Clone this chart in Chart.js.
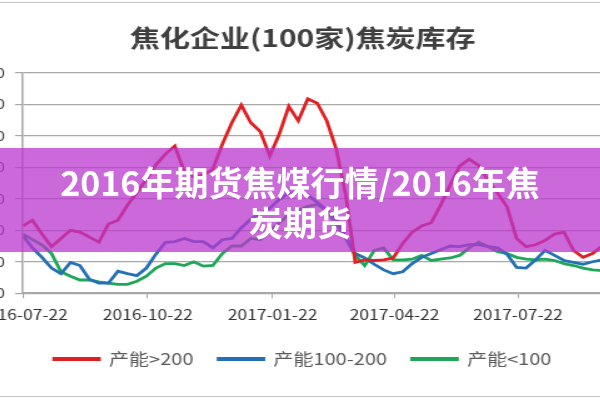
<!DOCTYPE html>
<html lang="zh">
<head>
  <meta charset="UTF-8">
  <script src="https://cdn.jsdelivr.net/npm/chart.js"></script>
  <title>焦化企业(100家)焦炭库存</title>
  <style>
    body {
      margin: 0;
      width: 600px;
      height: 400px;
      overflow: hidden;
      position: relative;
      background: #fff;
      font-family: "Noto Sans CJK SC", "Noto Sans", sans-serif;
    }

    /* source picture is stretched sideways, so the chart is too */
    #stockChart {
      position: absolute;
      left: -6px;
      top: 0;
      transform: scaleX(1.25);
      transform-origin: 0 0;
    }

    .frame {
      position: absolute;
      left: 0;
      top: 2px;
      width: 600px;
      height: 393px;
      border-top: 1.5px solid #c4c4c4;
      border-bottom: 1.5px solid #c4c4c4;
      pointer-events: none;
    }

    .banner {
      position: absolute;
      left: 0;
      top: 148px;
      width: 600px;
      height: 104px;
      background: rgba(185, 55, 205, 0.75);
    }

    .banner-text {
      position: absolute;
      left: 0;
      top: 162px;
      width: 600px;
      text-align: center;
      color: #fff;
      font-size: 34px;
      font-weight: bold;
      line-height: 40px;
    }
  </style>
</head>
<body>
<canvas id="stockChart" width="494" height="400"></canvas>
<div class="frame"></div>
<div class="banner"></div>
<div class="banner-text">2016年期货焦煤行情/2016年焦<br>炭期货</div>

<script>
  // weekly readings starting 2016-07-22
  const capOver200 = [107,116,94,74,87,100,97,89,81,110,
    116,140,160,181,204,221,234,193,185,188,
    197,237,271,299,271,257,218,253,297,274,
    309,302,274,229,156,49,53,52,53,56,
    79,97,107,112,140,172,202,213,203,179,
    159,137,87,74,77,84,94,97,68,57,
    63,75,87];
  const cap100to200 = [91,72,57,40,31,49,44,22,16,16,
    35,31,28,40,62,81,82,87,82,82,
    72,85,87,104,118,127,135,149,159,160,
    156,144,132,119,90,63,56,46,37,31,
    34,47,57,63,69,75,74,77,77,74,
    72,62,41,40,53,68,60,52,49,46,
    50,53,56];
  const capUnder100 = [94,85,77,63,34,27,21,21,18,16,
    14,14,19,27,40,47,47,44,50,43,
    44,63,75,75,87,85,99,112,125,132,
    138,141,131,110,87,60,44,68,72,53,
    53,54,60,52,54,56,60,72,81,74,
    66,63,57,54,53,54,52,47,44,40,
    37,36,37];

  const weeks = capOver200.map((_, i) => i);

  // date axis ticks, in weeks since 2016-07-22
  const xTickPos = [0, 13.14, 26.29, 39.14, 52.14];
  const xTickLabels = ['2016-07-22', '2016-10-22', '2017-01-22', '2017-04-22', '2017-07-22'];

  const seriesNames = ['产能>200', '产能100-200', '产能<100'];
  const seriesColors = ['#e01f22', '#2470b6', '#1fa657'];

  Chart.defaults.font.family = '"Noto Sans CJK SC", "Noto Sans", sans-serif';

  const gridGrey = '#a8a8a8';

  const ctx = document.getElementById('stockChart').getContext('2d');
  const stockChart = new Chart(ctx, {
    type: 'line',
    data: {
      labels: weeks,
      datasets: [capOver200, cap100to200, capUnder100].map((values, i) => ({
        label: seriesNames[i],
        data: values,
        borderColor: seriesColors[i],
        backgroundColor: seriesColors[i],
        borderWidth: 2.8,
        pointRadius: 0,
        tension: 0,
        fill: false,
      })),
    },
    options: {
      responsive: false,
      animation: false,
      layout: { padding: { top: 0, bottom: 23, left: 0, right: 0 } },
      plugins: {
        title: {
          display: true,
          text: '焦化企业(100家)焦炭库存',
          color: '#3f3f3f',
          font: { size: 24, weight: 'bold' },
          padding: { top: 23.6, bottom: 20.6 },
        },
        legend: {
          position: 'bottom',
          labels: {
            boxWidth: 36,
            boxHeight: 1,
            padding: 20,
            color: '#595959',
            font: { size: 16 },
          },
        },
        tooltip: { enabled: false },
      },
      scales: {
        x: {
          type: 'linear',
          min: 0,
          max: 62,
          grid: { drawOnChartArea: false, tickLength: 5, color: gridGrey },
          border: { color: gridGrey, width: 1.5 },
          ticks: {
            autoSkip: false,
            maxRotation: 0,
            padding: 8,
            color: '#333',
            font: { size: 14 },
            callback: (value, index) => xTickLabels[index],
          },
          afterBuildTicks: (scale) => {
            scale.ticks = xTickPos.map((v) => ({ value: v }));
          },
          afterFit: (scale) => {
            // first label is allowed to run off the left edge
            scale.paddingLeft = 0;
            scale.paddingRight = 0;
          },
        },
        y: {
          min: 0,
          max: 350,
          ticks: { stepSize: 50, padding: 8, color: '#404040', font: { size: 13 } },
          grid: { color: gridGrey, lineWidth: 1.2, tickLength: 6.4 },
          border: { color: gridGrey, width: 1.5 },
          afterFit: (scale) => {
            scale.width = 23.2;
          },
        },
      },
    },
  });
</script>
</body>
</html>
